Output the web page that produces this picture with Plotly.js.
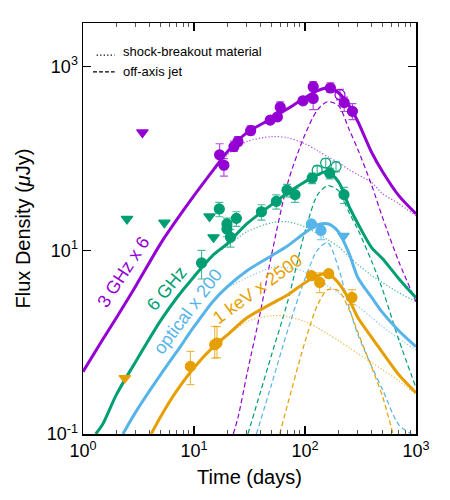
<!DOCTYPE html>
<html>
<head>
<meta charset="utf-8">
<script src="https://cdn.plot.ly/plotly-3.0.1.min.js"></script>
<style>html,body{margin:0;padding:0;background:#fff;}#chart{width:450px;height:500px;}</style>
</head>
<body>
<div id="chart"></div>
<script>
// ---------------- observations ----------------
// 3 GHz x 6 (purple)
const r3_t      = [17.0, 18.6, 22.9, 24.9, 32.4, 48.6, 56.4, 59.8, 95.9, 118.5, 118.5, 169.3, 225.5, 267.3];
const r3_f      = [109, 84, 134, 152, 200, 260, 282, 360, 422, 448, 601, 582, 403, 324];
const r3_ep     = [35, 15, 20, 20, 25, 25, 25, 50, 30, 30, 80, 80, 60, 70];
const r3_em     = [25, 20, 15, 15, 20, 20, 25, 40, 30, 110, 60, 60, 80, 60];
const r3o_t     = [206.6];
const r3o_f     = [492];
const r3o_ep    = [70];
const r3o_em    = [60];
const r3ul_t    = [3.43];
const r3ul_f    = [191];
// 6 GHz (green)
const r6_t      = [11.7, 16.9, 19.8, 19.8, 21.3, 24.1, 40.5, 55.2, 68.8, 81.3, 116.1, 167.0, 224.5];
const r6_f      = [7.26, 28.1, 19.3, 17.0, 13.8, 22.2, 26.2, 34.0, 45.0, 40.2, 61.0, 68.8, 40.2];
const r6_ep     = [2.7, 5, 3, 3, 3, 4, 5, 6, 7, 7, 8, 9, 8];
const r6_em     = [2.4, 5, 3, 3, 3, 4, 5, 6, 7, 7, 8, 9, 8];
const r6o_t     = [128.8, 153.6, 190.2];
const r6o_f     = [74.2, 88.9, 81.1];
const r6o_ep    = [8, 10, 10];
const r6o_em    = [8, 10, 10];
const r6ul_t    = [2.49, 5.41, 13.8, 15.0];
const r6ul_f    = [21.9, 19.9, 23.3, 13.8];
// optical x 200 (blue)
const opt_t     = [114.2, 139.3];
const opt_f     = [19.3, 16.4];
const opt_ep    = [1.2, 2.5];
const opt_em    = [1.2, 3.4];
const optul_t   = [222.3];
const optul_f   = [14.3];
// 1 keV x 2500 (orange)
const xr_t      = [9.28, 15.36, 16.11, 114.2, 135.6, 163.5, 265];
const xr_f      = [0.544, 0.937, 0.977, 5.28, 4.46, 5.55, 3.06];
const xr_ep     = [0.25, 0.55, 0.5, 0.35, 1.2, 0.45, 0.66];
const xr_em     = [0.2, 0.27, 0.3, 0.35, 1.0, 0.45, 0.5];
const xrul_t    = [2.38];
const xrul_f    = [0.406];

// ---------------- model curves ----------------
const r3Tot_t   = [1, 1.5, 2, 3, 5, 7, 10, 15, 20, 30, 50, 70, 100, 130, 160, 200, 250, 300, 400, 500, 700, 1000];
const r3Tot_f   = [0.477, 1.06, 1.84, 4.11, 11.8, 21.5, 39.2, 75.2, 118, 190, 270, 347, 456, 544, 587, 517, 374, 250, 115, 71.5, 39.2, 24.9];
const r3Sh_t    = [15, 20, 30, 50, 70, 100, 130, 160, 200, 250, 300, 400, 500, 700, 1000];
const r3Sh_f    = [72, 109, 152, 172, 167, 144, 121, 104, 89.6, 75.2, 66.3, 54.3, 41.2, 32.1, 23.7];
const r3Jet_t   = [22.6, 25, 30, 40, 50, 70, 100, 130, 160, 200, 250, 300, 400, 500, 700, 1000];
const r3Jet_f   = [0.1, 0.154, 0.448, 2.25, 8.93, 54.3, 181, 338, 413, 374, 205, 124, 50.3, 22.6, 7.5, 2.75];

const r6Tot_t   = [1.3, 1.5, 2, 3, 5, 7, 10, 15, 20, 30, 50, 70, 100, 130, 160, 200, 250, 300, 400, 500, 700, 1000];
const r6Tot_f   = [0.1, 0.127, 0.268, 0.62, 1.71, 3.04, 5.15, 8.93, 11.8, 19.4, 31.3, 42.2, 55.6, 66.3, 71.5, 55.6, 29.7, 19.4, 10.6, 8.08, 4.9, 3.04];
const r6Sh_t    = [15, 20, 30, 50, 70, 100, 130, 160, 200, 250, 300, 400, 500, 700, 1000];
const r6Sh_f    = [8.9, 11.2, 15.9, 19.9, 20.4, 18.0, 15.1, 13.0, 10.9, 8.5, 6.95, 5.28, 4.43, 3.45, 2.75];
const r6Jet_t   = [30.6, 40, 50, 70, 100, 130, 160, 200, 250, 300, 400, 500, 700, 1000];
const r6Jet_f   = [0.1, 0.296, 0.729, 2.8, 15.9, 40.2, 50.3, 44.4, 25.6, 16.7, 7.5, 3.72, 1.06, 0.319];

const optTot_t  = [2.29, 3, 5, 7, 10, 15, 20, 30, 50, 70, 100, 130, 160, 200, 250, 300, 400, 500, 700, 1000];
const optTot_f  = [0.1, 0.175, 0.442, 0.786, 1.47, 2.82, 4.01, 5.98, 8.71, 11.2, 15.5, 18.9, 19.4, 15.9, 9.16, 5.02, 3.04, 2.09, 1.33, 0.891];
const optSh_t   = [20, 30, 50, 70, 100, 130, 160, 200, 250, 300, 400, 500, 700, 1000];
const optSh_f   = [3.91, 5.02, 6.45, 6.45, 5.83, 4.9, 4.11, 3.45, 2.82, 2.43, 1.84, 1.47, 1.09, 0.826];
const optJet_t  = [36.5, 50, 70, 100, 130, 160, 200, 250, 300, 400, 500, 700, 909];
const optJet_f  = [0.1, 0.348, 1.36, 4.9, 10.1, 12.1, 6.45, 2.37, 1.2, 0.54, 0.303, 0.126, 0.1];

const xrTot_t   = [4.12, 5, 7, 10, 15, 20, 30, 50, 70, 100, 130, 160, 200, 250, 300, 400, 500, 700, 1000];
const xrTot_f   = [0.1, 0.154, 0.296, 0.526, 0.891, 1.2, 1.84, 2.62, 3.28, 4.43, 5.28, 5.55, 4.43, 2.89, 1.84, 1.12, 0.768, 0.442, 0.281];
const xrSh_t    = [20, 30, 50, 70, 100, 130, 160, 200, 250, 300, 400, 500, 700, 1000];
const xrSh_f    = [1.17, 1.67, 1.94, 1.89, 1.67, 1.43, 1.23, 1.04, 0.869, 0.748, 0.597, 0.501, 0.38, 0.268];
const xrJet_t   = [59.2, 70, 100, 130, 160, 200, 250, 300, 400, 500, 621];
const xrJet_f   = [0.1, 0.214, 1.01, 2.55, 3.72, 3.62, 2.25, 1.27, 0.526, 0.255, 0.1];

// ---------------- labels ----------------
const xTickVals = [1, 10, 100, 1000];
const xTickText = ['10<sup>0</sup>', '10<sup>1</sup>', '10<sup>2</sup>', '10<sup>3</sup>'];
const yTickVals = [0.1, 10, 1000];
const yTickText = ['10<sup>-1</sup>', '10<sup>1</sup>', '10<sup>3</sup>'];

const PUR = '#9400D3', GRN = '#009E73', BLU = '#56B4E9', ORA = '#E69F00';
function rgba(hex, a) {
  const r = parseInt(hex.slice(1,3),16), g = parseInt(hex.slice(3,5),16), b = parseInt(hex.slice(5,7),16);
  return `rgba(${r},${g},${b},${a})`;
}

const traces = [];
function model(t, f, color, kind) {
  const line = {color: color, width: 3, shape: 'spline', smoothing: 0.8};
  if (kind === 'dot') { line.width = 1.2; line.dash = '1.2px,2px'; line.color = rgba(color, 0.75); }
  if (kind === 'dash') { line.width = 1.2; line.dash = '5px,3px'; }
  traces.push({x: t, y: f, mode: 'lines', line: line, hoverinfo: 'skip', showlegend: false, cliponaxis: true});
}
function pts(t, f, ep, em, color, symbol) {
  const tr = {x: t, y: f, mode: 'markers', showlegend: false, cliponaxis: false,
    marker: {color: color, size: 10, symbol: symbol, line: {color: color, width: 1.2}}};
  if (ep) tr.error_y = {type: 'data', symmetric: false, array: ep, arrayminus: em,
    color: rgba(color, 0.7), thickness: 1.2, width: 4};
  traces.push(tr);
}

model(r3Sh_t, r3Sh_f, PUR, 'dot');  model(r3Jet_t, r3Jet_f, PUR, 'dash');
model(r6Sh_t, r6Sh_f, GRN, 'dot');  model(r6Jet_t, r6Jet_f, GRN, 'dash');
model(optSh_t, optSh_f, BLU, 'dot'); model(optJet_t, optJet_f, BLU, 'dash');
model(xrSh_t, xrSh_f, ORA, 'dot');  model(xrJet_t, xrJet_f, ORA, 'dash');
model(r3Tot_t, r3Tot_f, PUR, 'solid');
model(r6Tot_t, r6Tot_f, GRN, 'solid');
model(optTot_t, optTot_f, BLU, 'solid');
model(xrTot_t, xrTot_f, ORA, 'solid');

pts(r3_t, r3_f, r3_ep, r3_em, PUR, 'circle');
pts(r3o_t, r3o_f, r3o_ep, r3o_em, PUR, 'circle-open');
pts(r3ul_t, r3ul_f, null, null, PUR, 'triangle-down');
pts(r6_t, r6_f, r6_ep, r6_em, GRN, 'circle');
pts(r6o_t, r6o_f, r6o_ep, r6o_em, GRN, 'circle-open');
pts(r6ul_t, r6ul_f, null, null, GRN, 'triangle-down');
pts(opt_t, opt_f, opt_ep, opt_em, BLU, 'circle');
pts(optul_t, optul_f, null, null, BLU, 'triangle-down');
pts(xr_t, xr_f, xr_ep, xr_em, ORA, 'circle');
pts(xrul_t, xrul_f, null, null, ORA, 'triangle-down');

const minorVals = [];
for (let d = 1; d < 1000; d *= 10) for (let k = 2; k <= 9; k++) minorVals.push(k * d);

const FONT = 'Liberation Sans, Arial, Helvetica, sans-serif';
function label(x, y, ang, text, color) {
  return {xref: 'paper', yref: 'paper', x: x, y: y, xanchor: 'center', yanchor: 'middle',
    showarrow: false, textangle: ang, text: text, font: {size: 18, family: FONT, color: color}};
}
const layout = {
  width: 450, height: 500,
  margin: {l: 83, r: 34, t: 23, b: 66, pad: 0},
  paper_bgcolor: '#fff', plot_bgcolor: '#fff',
  font: {family: FONT, color: '#000'},
  showlegend: false,
  xaxis: {
    type: 'log', range: [0, 3], showgrid: false, zeroline: false,
    showline: true, linecolor: '#000', linewidth: 1.5, mirror: 'allticks',
    ticks: 'inside', ticklen: 8, tickwidth: 1.2, tickcolor: '#000',
    tickmode: 'array', tickvals: xTickVals, ticktext: xTickText,
    tickfont: {size: 18, family: FONT},
    minor: {tickmode: 'array', tickvals: minorVals, ticks: 'inside', ticklen: 4, tickwidth: 1, tickcolor: '#555', showgrid: false},
    title: {text: 'Time (days)', font: {size: 20, family: FONT}, standoff: 10}
  },
  yaxis: {
    type: 'log', range: [-1, 3.472], showgrid: false, zeroline: false,
    showline: true, linecolor: '#000', linewidth: 1.5, mirror: 'allticks',
    ticks: 'inside', ticklen: 8, tickwidth: 1.2, tickcolor: '#000',
    tickmode: 'array', tickvals: yTickVals, ticktext: yTickText,
    tickfont: {size: 18, family: FONT},
    title: {text: 'Flux Density (<i>μ</i>Jy)', font: {size: 20, family: FONT}, standoff: 10}
  },
  shapes: [
    {type: 'line', xref: 'paper', yref: 'paper', x0: 0.041, x1: 0.095, y0: 0.922, y1: 0.922,
     line: {color: '#000', width: 1.3, dash: '1.3px,2.2px'}},
    {type: 'line', xref: 'paper', yref: 'paper', x0: 0.03, x1: 0.095, y0: 0.881, y1: 0.881,
     line: {color: '#000', width: 1.3, dash: '4px,2px'}}
  ],
  annotations: [
    {xref: 'paper', yref: 'paper', x: 0.114, y: 0.931, xanchor: 'left', yanchor: 'middle', showarrow: false,
     text: 'shock-breakout material', font: {size: 13, family: FONT, color: '#000'}},
    {xref: 'paper', yref: 'paper', x: 0.114, y: 0.881, xanchor: 'left', yanchor: 'middle', showarrow: false,
     text: 'off-axis jet', font: {size: 13, family: FONT, color: '#000'}},
    label(0.122, 0.393, -57, '3 GHz x 6', PUR),
    label(0.250, 0.354, -50, '6 GHz', GRN),
    label(0.313, 0.298, -53, 'optical x 200', BLU),
    label(0.524, 0.353, -36, '1 keV x 2500', ORA)
  ]
};

Plotly.newPlot('chart', traces, layout, {displayModeBar: false, staticPlot: true});
</script>
</body>
</html>
